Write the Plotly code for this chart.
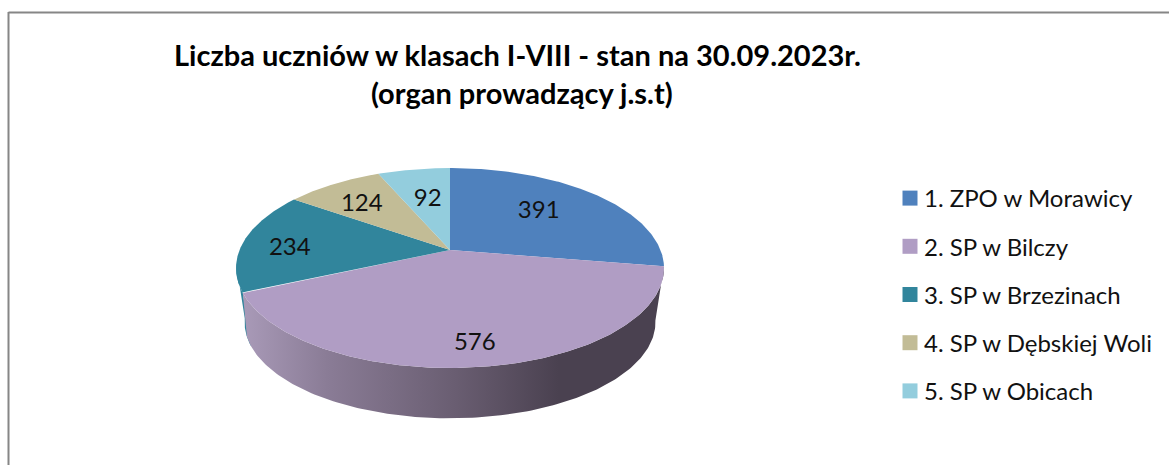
import numpy as np
import plotly.graph_objects as go

names = ["1. ZPO w Morawicy", "2. SP w Bilczy", "3. SP w Brzezinach", "4. SP w Dębskiej Woli", "5. SP w Obicach"]
values = [391, 576, 234, 124, 92]
colors = ["#4F81BD", "#B09DC4", "#31859C", "#C2BC96", "#93CDDD"]
title_lines = ["Liczba uczniów w klasach I-VIII - stan na 30.09.2023r.", "(organ prowadzący j.s.t)"]

# pie geometry (pixels of the page): perspective projection of a tilted disc
CX, CY, A, B, K = 450.0, 250.0, 96.76, 210.5, 0.18
RIM_S, RIM_CY = 0.96, 305.0
label_nudge = [(-22, 5), (1, 11), (-5, 6), (2, 6), (6, 13)]


def project(deg, r=1.0):
    t = np.radians(deg)
    u, v = r * np.sin(t), r * np.cos(t)
    w = 1 + K * v
    return CX + B * u / w, CY - A * v / w


def rim(deg):
    x, y = project(deg)
    return CX + RIM_S * (x - CX), RIM_CY + RIM_S * (y - CY)


def arc(a0, a1, fn=project, n=160):
    xs, ys = fn(np.linspace(a0, a1, n))
    return list(xs), list(ys)


total = sum(values)
edges = np.cumsum([0] + values) / total * 360.0

fig = go.Figure()

# side walls
def wall(a0, a1, rim_end=None, **kw):
    x1, y1 = arc(a0, a1)
    x2, y2 = arc(rim_end if rim_end is not None else a1, a0, rim)
    fig.add_trace(go.Scatter(x=x1 + x2, y=y1 + y2, mode="lines", fill="toself", line=dict(width=0),
                             showlegend=False, hoverinfo="skip", **kw))

wall(edges[2], 262, fillcolor=colors[2])
wall(edges[1], edges[2], rim_end=edges[2] + 5.5, fillcolor=colors[1],
     fillgradient=dict(type="horizontal",
                       colorscale=[[0, "#A99AB8"], [0.2, "#8A7C96"], [0.5, "#6A5E72"], [0.75, "#4A4150"], [1, "#4A4150"]]))

# top face
for i, name in enumerate(names):
    xs, ys = arc(edges[i], edges[i + 1])
    fig.add_trace(go.Scatter(x=[CX] + xs + [CX], y=[CY] + ys + [CY], mode="lines", fill="toself",
                             fillcolor=colors[i], line=dict(width=0), name=name,
                             showlegend=False, hoverinfo="name"))

# data labels
lx, ly = [], []
for i in range(len(values)):
    x, y = project((edges[i] + edges[i + 1]) / 2, 0.75)
    lx.append(float(x) + label_nudge[i][0])
    ly.append(float(y) + label_nudge[i][1])
fig.add_trace(go.Scatter(x=lx, y=ly, mode="text", text=[str(v) for v in values],
                         textfont=dict(family="Lato", size=24, color="#111111"),
                         showlegend=False, hoverinfo="skip"))

# legend entries
for i, name in enumerate(names):
    fig.add_trace(go.Scatter(x=[None], y=[None], mode="markers", name=name, legendgroup=name,
                             marker=dict(symbol="square", size=15, color=colors[i])))

fig.update_layout(
    width=1169, height=465, margin=dict(l=0, r=0, t=0, b=0, pad=0),
    paper_bgcolor="white", plot_bgcolor="white",
    xaxis=dict(range=[0, 1169], visible=False, fixedrange=True),
    yaxis=dict(range=[465, 0], visible=False, fixedrange=True),
    legend=dict(x=884 / 1169, y=1 - 176 / 465, xanchor="left", yanchor="top",
                font=dict(family="Lato", size=24, color="#111111"),
                tracegroupgap=14, bgcolor="rgba(0,0,0,0)", itemclick=False, itemdoubleclick=False),
    shapes=[
        dict(type="line", xref="x", yref="y", x0=8.5, x1=1169, y0=12.5, y1=12.5, line=dict(color="#868686", width=2)),
        dict(type="line", xref="x", yref="y", x0=8.5, x1=8.5, y0=12, y1=465, line=dict(color="#868686", width=2)),
    ],
    annotations=[
        dict(xref="x", yref="y", x=517, y=54, text=title_lines[0], showarrow=False,
             font=dict(family="Lato", size=29, color="#000000", weight="bold")),
        dict(xref="x", yref="y", x=522, y=92, text=title_lines[1], showarrow=False,
             font=dict(family="Lato", size=29, color="#000000", weight="bold")),
    ],
)
fig.write_html("out.html", config={"displayModeBar": False},
               post_script='document.body.style.margin="0";document.body.style.overflow="hidden";'
                           'document.querySelectorAll(".legend .legendpoints").forEach(function(g){g.setAttribute("transform","translate(6,0)");});')
